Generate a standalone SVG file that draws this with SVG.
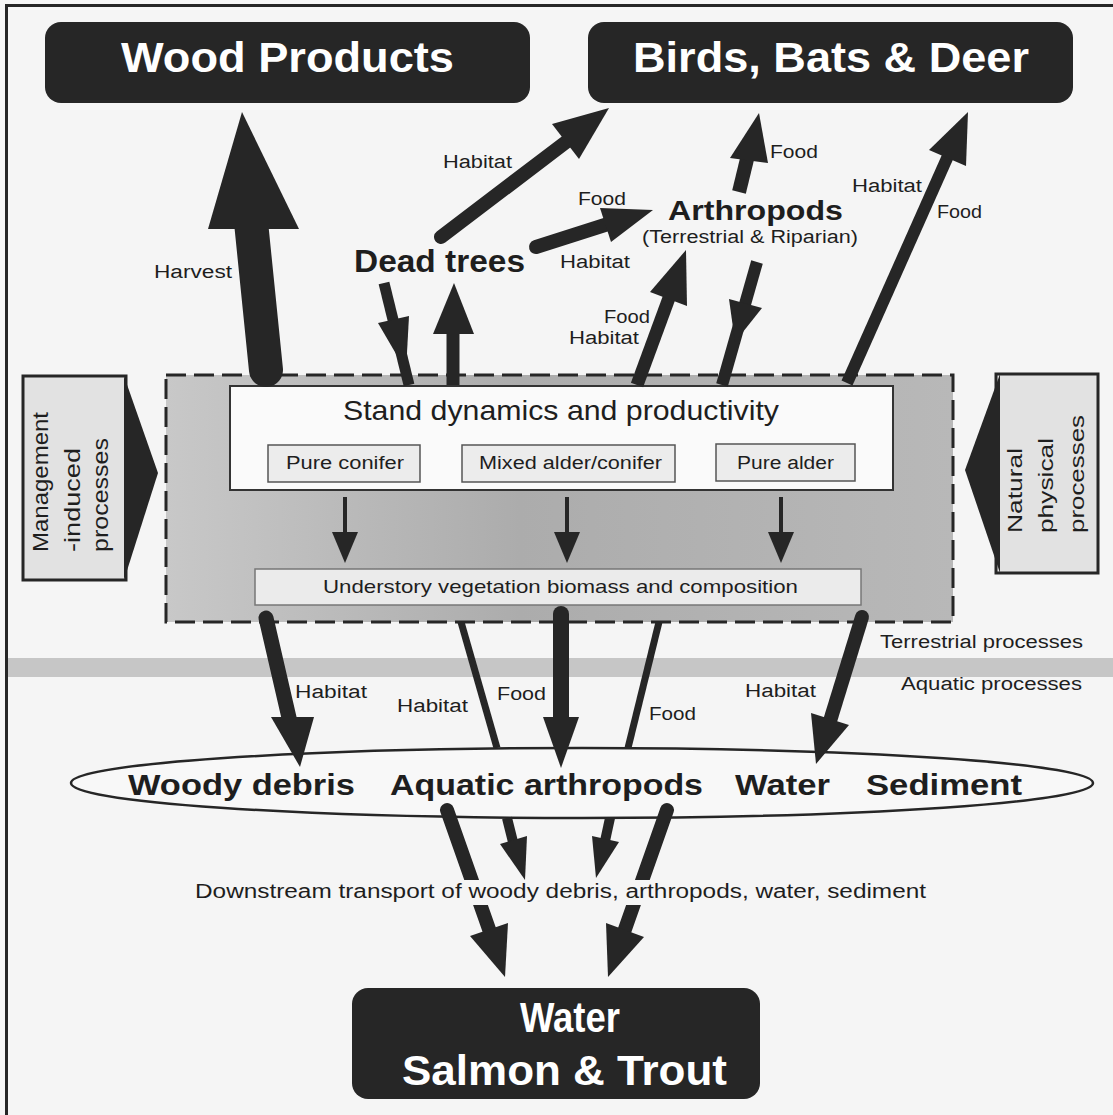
<svg xmlns="http://www.w3.org/2000/svg" width="1113" height="1115" viewBox="0 0 1113 1115">
  <defs>
    <linearGradient id="standFill" x1="0" y1="0" x2="1" y2="0">
      <stop offset="0" stop-color="#c8c8c8"/>
      <stop offset="0.45" stop-color="#acacac"/>
      <stop offset="1" stop-color="#b8b8b8"/>
    </linearGradient>
    <style>
      text { font-family: "Liberation Sans", Arial, sans-serif; fill: #1e1e1e; }
      .title { font-size: 43px; font-weight: bold; fill: #ffffff; }
      .dark { fill: #262626; }
      .lbl { font-size: 18px; }
      .bold { font-weight: bold; }
      .shaft { stroke: #262626; fill: none; stroke-linecap: round; }
      .butt { stroke-linecap: butt; }
      .head { fill: #262626; }
      .side { fill: #e2e2e2; stroke: #262626; stroke-width: 3; }
      .sub { fill: #ececec; stroke: #555555; stroke-width: 1.5; }
    </style>
  </defs>

  <!-- paper and frame -->
  <rect x="0" y="0" width="1113" height="1115" fill="#f5f5f5"/>
  <rect x="6.5" y="5.5" width="1130" height="1130" fill="none" stroke="#262626" stroke-width="3"/>

  <!-- terrestrial / aquatic divide -->
  <g id="divide">
    <rect x="8" y="658" width="1105" height="19" fill="#c6c6c6"/>
    <text class="lbl" x="880" y="648" textLength="203" lengthAdjust="spacingAndGlyphs">Terrestrial  processes</text>
    <text class="lbl" x="901" y="690" textLength="181" lengthAdjust="spacingAndGlyphs">Aquatic  processes</text>
  </g>

  <g id="wood-products">
    <rect class="dark" x="45" y="22" width="485" height="81" rx="16"/>
    <text class="title" x="121" y="72" textLength="333" lengthAdjust="spacingAndGlyphs">Wood Products</text>
  </g>

  <g id="birds-bats-deer">
    <rect class="dark" x="588" y="22" width="485" height="81" rx="16"/>
    <text class="title" x="633" y="72" textLength="396" lengthAdjust="spacingAndGlyphs">Birds, Bats &amp; Deer</text>
  </g>

  <g id="dead-trees">
    <text class="bold" x="354" y="272" font-size="31" textLength="171" lengthAdjust="spacingAndGlyphs">Dead  trees</text>
  </g>

  <g id="arthropods">
    <text class="bold" x="668" y="220" font-size="27" textLength="175" lengthAdjust="spacingAndGlyphs">Arthropods</text>
    <text class="lbl" x="642" y="243" textLength="216" lengthAdjust="spacingAndGlyphs">(Terrestrial &amp; Riparian)</text>
  </g>

  <g id="stand-dynamics">
    <rect x="166" y="375" width="787" height="247" fill="url(#standFill)" stroke="#262626" stroke-width="3" stroke-dasharray="20 8"/>
    <rect x="230" y="386" width="663" height="104" fill="#fafafa" stroke="#333333" stroke-width="2"/>
    <text x="343" y="420" font-size="28" textLength="436" lengthAdjust="spacingAndGlyphs">Stand dynamics and productivity</text>
    <rect class="sub" x="268" y="445" width="152" height="37"/>
    <text class="lbl" x="286" y="469" textLength="118" lengthAdjust="spacingAndGlyphs">Pure  conifer</text>
    <rect class="sub" x="462" y="445" width="213" height="37"/>
    <text class="lbl" x="479" y="469" textLength="183" lengthAdjust="spacingAndGlyphs">Mixed  alder/conifer</text>
    <rect class="sub" x="716" y="444" width="139" height="37"/>
    <text class="lbl" x="737" y="469" textLength="97" lengthAdjust="spacingAndGlyphs">Pure alder</text>
    <rect x="255" y="569" width="606" height="36" fill="#ebebeb" stroke="#777777" stroke-width="1.5"/>
    <text x="323" y="593" font-size="19" textLength="475" lengthAdjust="spacingAndGlyphs">Understory  vegetation  biomass  and  composition</text>
    <!-- stand type to understory -->
    <g>
      <line class="shaft butt" x1="345" y1="497" x2="345" y2="535" stroke-width="4"/>
      <polygon class="head" points="332,532 358,532 345,563"/>
      <line class="shaft butt" x1="567" y1="497" x2="567" y2="535" stroke-width="4"/>
      <polygon class="head" points="554,532 580,532 567,563"/>
      <line class="shaft butt" x1="781" y1="497" x2="781" y2="535" stroke-width="4"/>
      <polygon class="head" points="768,532 794,532 781,563"/>
    </g>
  </g>

  <g id="management">
    <rect class="side" x="23" y="376" width="103" height="204"/>
    <polygon class="head" points="124,376 158,473 124,580"/>
    <text transform="translate(48,552) rotate(-90)" font-size="22" textLength="140" lengthAdjust="spacingAndGlyphs">Management</text>
    <text transform="translate(80,552) rotate(-90)" font-size="22" textLength="104" lengthAdjust="spacingAndGlyphs">-induced</text>
    <text transform="translate(108,552) rotate(-90)" font-size="22" textLength="114" lengthAdjust="spacingAndGlyphs">processes</text>
  </g>

  <g id="natural">
    <rect class="side" x="996" y="374" width="102" height="199"/>
    <polygon class="head" points="1000,374 965,470 1000,573"/>
    <text transform="translate(1022,533) rotate(-90)" font-size="21" textLength="85" lengthAdjust="spacingAndGlyphs">Natural</text>
    <text transform="translate(1053,533) rotate(-90)" font-size="21" textLength="95" lengthAdjust="spacingAndGlyphs">physical</text>
    <text transform="translate(1084,533) rotate(-90)" font-size="21" textLength="118" lengthAdjust="spacingAndGlyphs">processes</text>
  </g>

  <g id="aquatic">
    <ellipse cx="582" cy="783" rx="511" ry="35" fill="#f8f8f8" stroke="#262626" stroke-width="2.5"/>
    <text class="bold" x="128" y="795" font-size="30" textLength="227" lengthAdjust="spacingAndGlyphs">Woody debris</text>
    <text class="bold" x="390" y="795" font-size="30" textLength="313" lengthAdjust="spacingAndGlyphs">Aquatic arthropods</text>
    <text class="bold" x="735" y="795" font-size="30" textLength="95" lengthAdjust="spacingAndGlyphs">Water</text>
    <text class="bold" x="866" y="795" font-size="30" textLength="156" lengthAdjust="spacingAndGlyphs">Sediment</text>
  </g>

  <g id="water-salmon-trout">
    <rect class="dark" x="352" y="988" width="408" height="111" rx="16"/>
    <text class="title" x="520" y="1032" font-size="38" textLength="100" lengthAdjust="spacingAndGlyphs">Water</text>
    <text class="title" x="402" y="1085" font-size="39" textLength="325" lengthAdjust="spacingAndGlyphs">Salmon &amp; Trout</text>
  </g>

  <g id="connectors">
    <!-- harvest -->
    <line class="shaft" x1="266" y1="370" x2="251" y2="222" stroke-width="34"/>
    <polygon class="head" points="242,112 208,229 299,229"/>
    <!-- dead trees down into stand -->
    <line class="shaft butt" x1="384" y1="283" x2="409" y2="385" stroke-width="11"/>
    <polygon class="head" points="409,316 378,323 406,371"/>
    <!-- stand up to dead trees -->
    <line class="shaft butt" x1="453" y1="385" x2="453" y2="325" stroke-width="13"/>
    <polygon class="head" points="454,283 433,334 474,334"/>
    <!-- dead trees habitat to birds -->
    <line class="shaft" x1="441" y1="237" x2="570" y2="139" stroke-width="14"/>
    <polygon class="head" points="609,108 579,159 552,124"/>
    <!-- dead trees to arthropods -->
    <line class="shaft" x1="536" y1="247" x2="608" y2="224" stroke-width="14"/>
    <polygon class="head" points="653,210 611,242 600,208"/>
    <!-- arthropods food to birds -->
    <line class="shaft butt" x1="739" y1="192" x2="748" y2="155" stroke-width="14"/>
    <polygon class="head" points="759,113 730,158 768,163"/>
    <!-- stand to arthropods -->
    <line class="shaft butt" x1="637" y1="385" x2="669" y2="298" stroke-width="13"/>
    <polygon class="head" points="686,250 687,306 650,292"/>
    <!-- arthropods down to stand -->
    <line class="shaft butt" x1="757" y1="262" x2="722" y2="385" stroke-width="12"/>
    <polygon class="head" points="735,342 762,308 729,299"/>
    <!-- stand habitat/food to birds -->
    <line class="shaft butt" x1="847" y1="383" x2="948" y2="156" stroke-width="12"/>
    <polygon class="head" points="968,112 966,166 929,150"/>

    <!-- stand to aquatic -->
    <line class="shaft" x1="266" y1="618" x2="290" y2="722" stroke-width="15"/>
    <polygon class="head" points="300,767 271,717 314,717"/>
    <line class="shaft butt" x1="461" y1="622" x2="497" y2="748" stroke-width="7"/>
    <line class="shaft" x1="561" y1="614" x2="561" y2="722" stroke-width="16"/>
    <polygon class="head" points="561,768 543,717 579,717"/>
    <line class="shaft butt" x1="659" y1="622" x2="628" y2="748" stroke-width="7"/>
    <line class="shaft" x1="862" y1="617" x2="830" y2="721" stroke-width="14"/>
    <polygon class="head" points="816,764 849,725 811,713"/>

    <!-- downstream -->
    <line class="shaft" x1="447" y1="810" x2="490" y2="932" stroke-width="14"/>
    <polygon class="head" points="505,977 508,923 470,936"/>
    <line class="shaft butt" x1="507" y1="818" x2="513" y2="842" stroke-width="10"/>
    <polygon class="head" points="525,880 527,836 500,844"/>
    <line class="shaft butt" x1="610" y1="818" x2="605" y2="841" stroke-width="10"/>
    <polygon class="head" points="596,878 619,842 592,836"/>
    <line class="shaft" x1="667" y1="810" x2="624" y2="932" stroke-width="14"/>
    <polygon class="head" points="608,977 644,937 606,923"/>
  </g>

  <g id="labels">
    <text class="lbl" x="154" y="278" textLength="78" lengthAdjust="spacingAndGlyphs">Harvest</text>
    <text class="lbl" x="443" y="168" textLength="69" lengthAdjust="spacingAndGlyphs">Habitat</text>
    <text class="lbl" x="578" y="205" textLength="48" lengthAdjust="spacingAndGlyphs">Food</text>
    <text class="lbl" x="560" y="268" textLength="70" lengthAdjust="spacingAndGlyphs">Habitat</text>
    <text class="lbl" x="770" y="158" textLength="48" lengthAdjust="spacingAndGlyphs">Food</text>
    <text class="lbl" x="852" y="192" textLength="70" lengthAdjust="spacingAndGlyphs">Habitat</text>
    <text class="lbl" x="937" y="218" textLength="45" lengthAdjust="spacingAndGlyphs">Food</text>
    <text class="lbl" x="604" y="323" textLength="46" lengthAdjust="spacingAndGlyphs">Food</text>
    <text class="lbl" x="569" y="344" textLength="70" lengthAdjust="spacingAndGlyphs">Habitat</text>
    <text class="lbl" x="295" y="698" textLength="72" lengthAdjust="spacingAndGlyphs">Habitat</text>
    <text class="lbl" x="397" y="712" textLength="71" lengthAdjust="spacingAndGlyphs">Habitat</text>
    <text class="lbl" x="497" y="700" textLength="49" lengthAdjust="spacingAndGlyphs">Food</text>
    <text class="lbl" x="649" y="720" textLength="47" lengthAdjust="spacingAndGlyphs">Food</text>
    <text class="lbl" x="745" y="697" textLength="71" lengthAdjust="spacingAndGlyphs">Habitat</text>
    <rect x="190" y="880" width="740" height="25" fill="#f5f5f5"/>
    <text x="195" y="898" font-size="20" textLength="731" lengthAdjust="spacingAndGlyphs">Downstream  transport  of  woody  debris,  arthropods,  water,  sediment</text>
  </g>
</svg>
